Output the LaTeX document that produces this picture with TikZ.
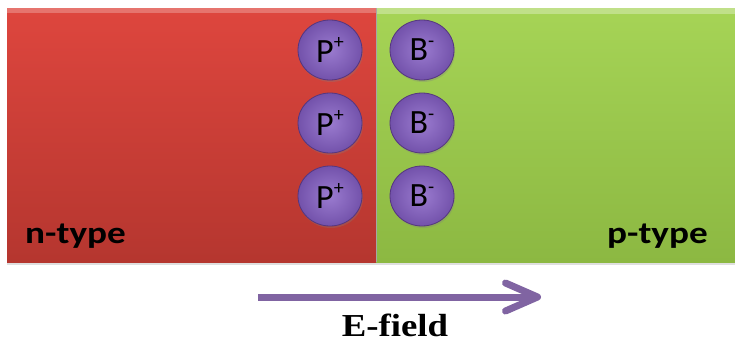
\documentclass[tikz,border=0pt]{standalone}
\usepackage{fontspec}
\setmainfont{Carlito}
\newfontfamily\serifbold{Liberation Serif}
\usetikzlibrary{shapes.geometric,arrows.meta,shadows}
\definecolor{redtop}{HTML}{DE463E}
\definecolor{redbot}{HTML}{B5362F}
\definecolor{greentop}{HTML}{A6D456}
\definecolor{greenbot}{HTML}{8CB842}
\definecolor{ballin}{HTML}{9A7BCF}
\definecolor{ballout}{HTML}{7352AB}
\definecolor{balledge}{HTML}{55367F}
\definecolor{arrowcol}{HTML}{8064A2}
\tikzset{
  region/.style={draw=none, drop shadow={shadow xshift=0pt, shadow yshift=-3pt, opacity=0.25}},
  ion/.style={ellipse, minimum width=64pt, minimum height=60pt, inner sep=0pt,
    draw=balledge, line width=0.8pt, inner color=ballin, outer color=ballout,
    font=\fontsize{34}{34}\selectfont, text=black,
    drop shadow={shadow xshift=1pt, shadow yshift=-2pt, opacity=0.3}},
  typelabel/.style={font=\fontsize{31}{31}\selectfont\bfseries, text=black, inner sep=0pt},
}
\begin{document}
\begin{tikzpicture}[x=1pt,y=-1pt]
\useasboundingbox (0,0) rectangle (735,343);
\fill[white] (0,0) rectangle (735,343);
% regions
\path[region, top color=redtop, bottom color=redbot] (7,8) rectangle (376,262);
\path[region, top color=greentop, bottom color=greenbot] (376,8) rectangle (740,262);
\fill[white, opacity=0.25] (7,8) rectangle (376,13);
\fill[white, opacity=0.3] (376,8) rectangle (740,14);
\draw[black!35, line width=1pt] (376,8) -- (376,262);
% ions
\node[ion] (p1) at (330,50) {P\raisebox{0.4em}{\fontsize{20}{20}\selectfont +}};
\node[ion] (p2) at (330,123) {P\raisebox{0.4em}{\fontsize{20}{20}\selectfont +}};
\node[ion] (p3) at (330,196) {P\raisebox{0.4em}{\fontsize{20}{20}\selectfont +}};
\node[ion] (b1) at (422,50) {B\raisebox{0.4em}{\fontsize{20}{20}\selectfont -}};
\node[ion] (b2) at (422,123) {B\raisebox{0.4em}{\fontsize{20}{20}\selectfont -}};
\node[ion] (b3) at (422,196) {B\raisebox{0.4em}{\fontsize{20}{20}\selectfont -}};
% labels
\node[typelabel, anchor=base west, xscale=1.2] (ntype) at (25,243) {n-type};
\node[typelabel, anchor=base east, xscale=1.2] (ptype) at (708,243) {p-type};
% E-field arrow
\coordinate (estart) at (258,297);
\coordinate (eend) at (541,297);
\draw[arrowcol, line width=7pt, line join=round,
  -{Straight Barb[length=32pt, width=28pt, line width=7pt, round]}] (estart) -- (eend);
\node[font=\serifbold\fontsize{32}{32}\selectfont\bfseries, anchor=base, xscale=1.15, inner sep=0pt] (efield) at (395,336) {E-field};
\end{tikzpicture}
\end{document}
